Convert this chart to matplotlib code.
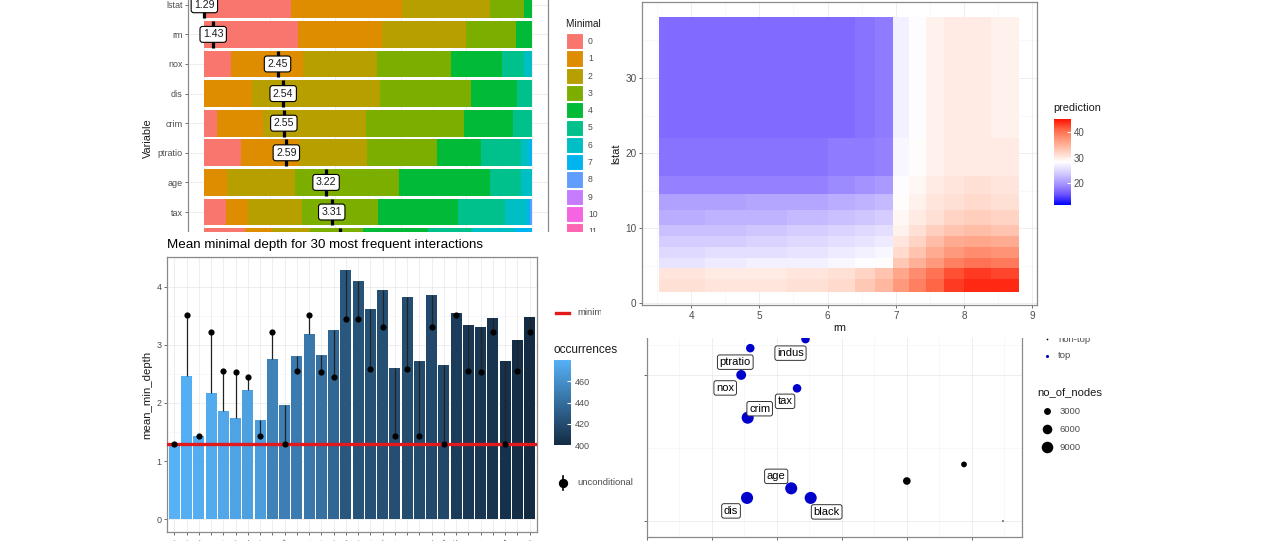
import numpy as np
import matplotlib
matplotlib.use("Agg")
import matplotlib.pyplot as plt
from matplotlib.colors import LinearSegmentedColormap, Normalize
from matplotlib.cm import ScalarMappable
from matplotlib.patches import Rectangle

plt.rcParams['font.family'] = ['Liberation Sans', 'DejaVu Sans']

# ---------------- data ----------------
# minimal depth distribution: number of trees per minimal depth (0, 1, 2, ...)
md_vars = ["lstat", "rm", "nox", "dis", "crim", "ptratio", "age", "tax", "indus", "black"]
md_means = [1.29, 1.43, 2.45, 2.54, 2.55, 2.59, 3.22, 3.31, 3.44, 3.52]
md_counts = [
    [132, 170, 134, 53, 11],
    [143, 128, 129, 76, 24],
    [40, 111, 112, 114, 78, 33, 12],
    [0, 73, 196, 138, 70, 23],
    [20, 70, 157, 149, 76, 28],
    [56, 88, 104, 108, 66, 61, 13, 4],
    [0, 35, 103, 159, 139, 47, 17],
    [33, 33, 83, 117, 121, 73, 33, 5, 2],
    [62, 41, 58, 81, 99, 68, 66, 25],
    [1, 35, 90, 125, 110, 70, 35, 20, 14],
]
depth_levels = [str(d) for d in range(12)]
n_trees = 500

# multi-way importance (all variables)
imp_vars = ["lstat", "rm", "nox", "dis", "crim", "ptratio", "age", "tax",
            "indus", "black", "zn", "rad", "chas"]
imp_mean_depth = [1.29, 1.43, 2.45, 2.54, 2.55, 2.59, 3.22, 3.31, 3.44, 3.52, 5.00, 5.88, 6.48]
imp_times_root = [132, 143, 40, 1, 20, 56, 2, 33, 62, 1, 3, 6, 0]
imp_nodes = [10200, 9600, 6400, 9900, 9800, 4700, 9800, 4700, 4600, 9800, 3700, 2100, 600]
imp_top = [True] * 10 + [False] * 3
size_breaks = [3000, 6000, 9000]

# interactions
inter_names = ["lstat:lstat", "lstat:black", "lstat:rm", "lstat:age", "lstat:crim",
               "lstat:dis", "lstat:nox", "rm:rm", "rm:age", "rm:lstat", "rm:crim",
               "rm:black", "rm:dis", "rm:nox", "lstat:indus", "rm:indus", "lstat:ptratio",
               "lstat:tax", "nox:rm", "rm:ptratio", "crim:rm", "rm:tax", "nox:lstat",
               "nox:black", "nox:crim", "nox:dis", "nox:age", "dis:lstat", "dis:crim",
               "crim:age"]
inter_mean = [1.30, 2.46, 1.43, 2.18, 1.86, 1.74, 2.22, 1.71, 2.75, 1.97, 2.81, 3.19,
              2.83, 3.26, 4.29, 4.10, 3.62, 3.95, 2.61, 3.82, 2.73, 3.86, 2.66, 3.56,
              3.34, 3.31, 3.47, 2.73, 3.08, 3.48]
inter_occ = [480, 478, 477, 476, 474, 472, 470, 468, 452, 450, 448, 446, 442, 436, 426,
             424, 423, 422, 421, 420, 419, 418, 417, 410, 408, 407, 406, 404, 402, 400]

# prediction surface (rm x lstat), read region by region
rm_edges = [3.53, 4.2, 4.8, 5.4, 6.0, 6.4, 6.7, 6.96, 7.2, 7.45, 7.7, 8.0, 8.4, 8.81]
lstat_edges = [1.55, 3.2, 4.7, 6.0, 7.5, 9.0, 10.5, 12.5, 14.5, 17.0, 22.0, 30.0, 38.15]
pred_table = [
    [31.0, 30.5, 30.5, 31.0, 31.5, 33.0, 34.5, 37.0, 39.0, 41.0, 43.0, 44.0, 44.0],
    [30.5, 30.0, 30.0, 30.5, 31.0, 32.0, 33.5, 36.0, 38.0, 40.0, 42.0, 43.0, 42.5],
    [26.0, 26.5, 27.0, 27.0, 27.5, 28.0, 28.5, 33.0, 35.0, 37.0, 39.0, 40.0, 39.5],
    [25.0, 25.5, 25.5, 26.0, 26.5, 27.0, 27.5, 31.5, 33.5, 35.5, 37.0, 38.0, 37.5],
    [24.0, 24.0, 24.5, 25.0, 25.5, 26.0, 26.5, 30.5, 32.0, 34.0, 35.5, 36.0, 35.5],
    [23.0, 23.0, 23.5, 24.0, 24.5, 25.0, 25.5, 29.5, 31.0, 32.5, 33.5, 34.0, 33.5],
    [21.5, 22.0, 22.0, 22.5, 23.0, 23.5, 24.0, 29.0, 30.0, 31.0, 32.0, 32.5, 32.0],
    [20.5, 20.5, 21.0, 21.0, 21.5, 22.0, 22.5, 28.5, 29.5, 30.5, 31.0, 31.5, 31.0],
    [18.5, 18.5, 18.5, 18.5, 19.0, 19.5, 20.0, 28.0, 29.0, 30.0, 30.5, 31.0, 30.5],
    [17.5, 17.5, 17.5, 17.5, 18.0, 18.0, 18.5, 27.5, 28.5, 29.5, 30.0, 30.0, 30.0],
    [17.0, 17.0, 17.0, 17.0, 17.0, 17.5, 18.0, 27.0, 28.0, 29.5, 30.0, 30.0, 29.5],
    [17.0, 17.0, 17.0, 17.0, 17.0, 17.5, 18.0, 27.0, 28.0, 29.5, 30.0, 30.0, 29.5],
]
pred_range = [11.4, 45.1]
pred_breaks = [20, 30, 40]

# ---------------- styles ----------------
hue12 = ["#F8766D", "#DE8C00", "#B79F00", "#7CAE00", "#00BA38", "#00C08B",
         "#00BFC4", "#00B4F0", "#619CFF", "#C77CFF", "#F564E3", "#FF64B0"]
GRAY_TXT = "#4d4d4d"
BORDER = "#8a8a8a"

W, H = 1271, 541
fig = plt.figure(figsize=(W / 100, H / 100), dpi=100)


def px_axes(x0, y0, x1, y1, z):
    ax = fig.add_axes([x0 / W, 1 - y1 / H, (x1 - x0) / W, (y1 - y0) / H])
    ax.set_zorder(z)
    return ax


def px_layer(x0, y0, x1, y1, z, white=True):
    ax = px_axes(x0, y0, x1, y1, z)
    ax.set_xlim(x0, x1)
    ax.set_ylim(y1, y0)
    ax.set_xticks([])
    ax.set_yticks([])
    for s in ax.spines.values():
        s.set_visible(False)
    if not white:
        ax.patch.set_alpha(0)
    return ax


def bw_panel(ax, size=6.5):
    ax.set_axisbelow(True)
    ax.grid(which='major', color='#ebebeb', lw=0.6)
    ax.grid(which='minor', color='#f3f3f3', lw=0.4)
    for s in ax.spines.values():
        s.set_color(BORDER)
        s.set_linewidth(0.9)
    ax.tick_params(which='major', length=2.5, width=0.6, color='#555555',
                   labelcolor=GRAY_TXT, labelsize=size, pad=1.5)
    ax.tick_params(which='minor', length=0)


def sqrt_fwd(v):
    v = np.asarray(v, dtype=float)
    return np.sign(v) * np.sqrt(np.abs(v))


def sqrt_inv(u):
    u = np.asarray(u, dtype=float)
    return np.sign(u) * u ** 2


# ============ A: minimal depth distribution (bottom layer) ============
axA = px_axes(188, -13, 548, 289, 1.1)
bw_panel(axA)
for i, counts in enumerate(md_counts):
    left = np.concatenate([[0], np.cumsum(counts)[:-1]])
    axA.barh([i] * len(counts), counts, left=left, height=0.9,
             color=hue12[:len(counts)], linewidth=0, zorder=2)
lo_all, hi_all = min(imp_mean_depth), max(imp_mean_depth)
for i, m in enumerate(md_means):
    pos = (m - lo_all) / (hi_all - lo_all) * n_trees
    axA.plot([pos, pos], [i - 0.45, i + 0.45], color='black', lw=2.3, zorder=3,
             solid_capstyle='butt')
    axA.text(pos, i, f"{m:.2f}", ha='center', va='center', fontsize=7.6,
             color='#1a1a1a', zorder=4,
             bbox=dict(boxstyle='round,pad=0.28,rounding_size=0.25', fc='white',
                       ec='black', lw=0.8))
axA.set_xlim(-25, 525)
axA.set_ylim(len(md_vars) - 0.4, -0.6)
axA.set_yticks(range(len(md_vars)))
axA.set_yticklabels(md_vars)
axA.set_xticks([0, 100, 200, 300, 400, 500])
axA.set_xticks([50, 150, 250, 350, 450], minor=True)
axA.set_ylabel("Variable", fontsize=7.8, color='#1a1a1a', labelpad=3)

legA = px_layer(552, 0, 600, 235, 1.2, white=False)
legA.text(566, 24, "Minimal depth", fontsize=7.2, va='center', color='#1a1a1a')
for k, lab in enumerate(depth_levels):
    y = 33 + k * 17.3
    legA.add_patch(Rectangle((566, y), 16.5, 16.3, fc=hue12[k], ec='white', lw=0.8))
    legA.text(588, y + 8.5, lab, fontsize=6.2, va='center', color=GRAY_TXT)

# ============ D: multi-way importance ============
bgD = px_layer(640, 300, 1271, 541, 2.0)
axD = px_axes(647, 230, 1022, 537, 2.1)
bw_panel(axD)
axD.set_yscale('function', functions=(sqrt_fwd, sqrt_inv))
axD.set_ylim(float(sqrt_inv(-0.693)), float(sqrt_inv(12.60)))
axD.set_xlim(1.004, 6.773)
axD.set_yticks([0, 40, 80, 120])
axD.set_yticks([10, 58.2, 98.9], minor=True)
axD.set_xticks([1, 2, 3, 4, 5, 6])
axD.set_xticks([1.5, 2.5, 3.5, 4.5, 5.5, 6.5], minor=True)
axD.set_yticklabels([])
axD.set_xticklabels([])

node_min = min(imp_nodes)


def node_size(v):
    diam_px = 1.5 + 0.11 * np.sqrt(np.maximum(np.asarray(v, float) - node_min, 0))
    return (diam_px * 0.72) ** 2


cols = ['#0000cd' if t else 'black' for t in imp_top]
axD.scatter(imp_mean_depth, imp_times_root, s=node_size(imp_nodes), c=cols,
            linewidths=0, zorder=3, clip_on=False)
label_offsets = {"indus": (-15, -14), "ptratio": (-15, -14), "nox": (-16, -13),
                 "tax": (-12, -13), "crim": (12, 9), "age": (-15, 12),
                 "dis": (-16, -13), "black": (16, -14), "lstat": (10, 10),
                 "rm": (10, 10)}
for name, x, y, top in zip(imp_vars, imp_mean_depth, imp_times_root, imp_top):
    if not top:
        continue
    dx, dy = label_offsets[name]
    axD.annotate(name, (x, y), xytext=(dx * 0.72, dy * 0.72), textcoords='offset points',
                 ha='center', va='center', fontsize=8, color='black', zorder=4,
                 bbox=dict(boxstyle='round,pad=0.2,rounding_size=0.2', fc='white',
                           ec='#333333', lw=0.7))

legD = px_layer(1030, 300, 1271, 541, 2.2, white=False)
legD.scatter([1047], [339], s=1.5, c='black', linewidths=0)
legD.text(1058, 339, "non-top", fontsize=6.8, va='center', color=GRAY_TXT)
legD.scatter([1047], [356], s=5, c='#0000cd', linewidths=0)
legD.text(1058, 356, "top", fontsize=6.8, va='center', color=GRAY_TXT)
legD.text(1037, 392, "no_of_nodes", fontsize=8.1, va='center', color='#1a1a1a')
for k, b in enumerate(size_breaks):
    y = 411 + k * 18
    legD.scatter([1047], [y], s=node_size(b), c='black', linewidths=0)
    legD.text(1060, y, str(b), fontsize=6.8, va='center', color=GRAY_TXT)

# ============ B: interactions ============
bgB = px_layer(0, 232, 640, 541, 3.0)
axB = px_axes(167, 257, 537, 532, 3.1)
bw_panel(axB)
occ_norm = Normalize(min(inter_occ), max(inter_occ))
occ_cmap = LinearSegmentedColormap.from_list("occ", ["#132B43", "#56B1F7"])
xs = np.arange(len(inter_names))
uncond = [md_means[md_vars.index(n.split(":")[1])] for n in inter_names]
axB.bar(xs, inter_mean, width=0.9, color=occ_cmap(occ_norm(inter_occ)), zorder=2)
axB.axhline(min(uncond), color='#e31a1c', lw=2.4, zorder=3)
axB.vlines(xs, np.minimum(inter_mean, uncond), np.maximum(inter_mean, uncond),
           color='#222222', lw=0.9, zorder=4)
axB.scatter(xs, uncond, s=20, c='black', linewidths=0, zorder=5)
axB.set_xlim(-0.6, len(xs) - 0.4)
axB.set_ylim(-0.224, 4.517)
axB.set_yticks([0, 1, 2, 3, 4])
axB.set_yticks([0.5, 1.5, 2.5, 3.5, 4.5], minor=True)
axB.set_xticks(xs)
axB.set_xticklabels(inter_names, rotation=45, ha='right', rotation_mode='anchor')
axB.set_ylabel("mean_min_depth", fontsize=8.2, color='#1a1a1a', labelpad=3)

legB = px_layer(130, 232, 640, 541, 3.2, white=False)
legB.text(167, 245, "Mean minimal depth for 30 most frequent interactions", fontsize=9.6,
          va='center', color='black')
legB.plot([556, 569], [313, 313], color='#e31a1c', lw=2.4)
legB.text(577, 313, "minimum", fontsize=6.8, va='center', color=GRAY_TXT)
legB.text(554, 350, "occurrences", fontsize=8.5, va='center', color='#1a1a1a')
legB.plot([563, 563], [476, 490], color='black', lw=1.2)
legB.scatter([563], [483], s=45, c='black', linewidths=0)
legB.text(577, 483, "unconditional", fontsize=6.8, va='center', color=GRAY_TXT)

caxB = px_axes(554, 360, 571, 445, 3.3)
cbB = fig.colorbar(ScalarMappable(norm=occ_norm, cmap=occ_cmap), cax=caxB)
cbB.outline.set_visible(False)
cbB.set_ticks([400, 420, 440, 460])
caxB.tick_params(length=3, width=0.8, color='white', direction='in',
                 labelsize=6.5, labelcolor=GRAY_TXT, pad=3)

# ============ C: prediction heatmap (top layer) ============
bgC = px_layer(601, 0, 1271, 338, 4.0)
axC = px_axes(642, 2, 1037, 305, 4.1)
bw_panel(axC, size=7.2)
pred_cmap = LinearSegmentedColormap.from_list(
    "pred", [(0.0, "#0000ff"), (0.125, "#6f55ff"), (0.25, "#a898ff"),
             (0.375, "#d6cdff"), (0.5, "#ffffff"), (0.625, "#ffcfbe"),
             (0.75, "#ff9e81"), (0.875, "#ff6848"), (1.0, "#ff1200")])
pred_norm = Normalize(*pred_range)
axC.pcolormesh(rm_edges, lstat_edges, pred_table, cmap=pred_cmap, norm=pred_norm,
               zorder=2)
axC.set_xlim(3.28, 9.07)
axC.set_ylim(-0.2, 40.1)
axC.set_xticks([4, 5, 6, 7, 8, 9])
axC.set_xticks([3.5, 4.5, 5.5, 6.5, 7.5, 8.5], minor=True)
axC.set_yticks([0, 10, 20, 30])
axC.set_yticks([5, 15, 25, 35], minor=True)
axC.set_xlabel("rm", fontsize=8, color='#1a1a1a', labelpad=2)
axC.set_ylabel("lstat", fontsize=8, color='#1a1a1a', labelpad=3)

legC = px_layer(1040, 90, 1271, 220, 4.2, white=False)
legC.text(1053, 108, "prediction", fontsize=7.8, va='center', color='#1a1a1a')
caxC = px_axes(1054, 119, 1071, 205, 4.3)
cbC = fig.colorbar(ScalarMappable(norm=pred_norm, cmap=pred_cmap), cax=caxC)
cbC.outline.set_visible(False)
cbC.set_ticks(pred_breaks)
caxC.tick_params(length=3, width=0.8, color='white', direction='in',
                 labelsize=7, labelcolor=GRAY_TXT, pad=2)

fig.savefig("out.png", dpi=100, facecolor='white')
